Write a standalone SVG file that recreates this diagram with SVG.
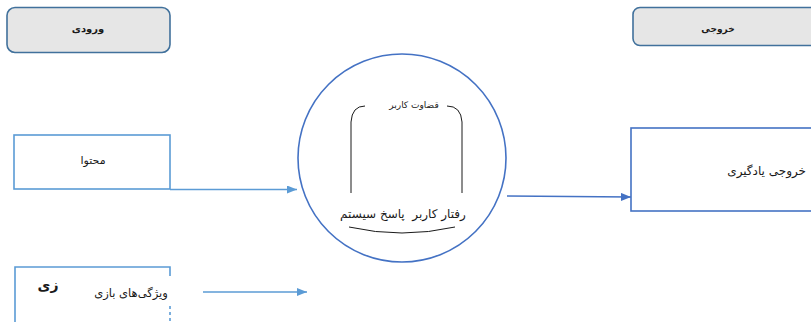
<svg xmlns="http://www.w3.org/2000/svg" width="811" height="322" viewBox="0 0 811 322">
  <defs>
    <style>
      .t { font-family: "DejaVu Sans", "Noto Sans", sans-serif; fill: #1a1a1a; text-anchor: middle; }
      .hdr { fill: #e6e6e6; stroke: #41719c; stroke-width: 1.6; }
      .box-lt { fill: #ffffff; stroke: #5b9bd5; stroke-width: 1.6; }
      .box-dk { fill: #ffffff; stroke: #4472c4; stroke-width: 1.6; }
      .brace { fill: none; stroke: #1a1a1a; stroke-width: 1; }
      .flow-lt { fill: none; stroke: #5b9bd5; stroke-width: 1.5; }
      .flow-dk { fill: none; stroke: #4472c4; stroke-width: 1.5; }
    </style>
    <marker id="ah-lt" viewBox="0 0 10 8" refX="10" refY="4" markerWidth="10" markerHeight="8" markerUnits="userSpaceOnUse" orient="auto">
      <path d="M0,0 L10,4 L0,8 Z" fill="#5b9bd5"/>
    </marker>
    <marker id="ah-dk" viewBox="0 0 10 8" refX="10" refY="4" markerWidth="10" markerHeight="8" markerUnits="userSpaceOnUse" orient="auto">
      <path d="M0,0 L10,4 L0,8 Z" fill="#4472c4"/>
    </marker>
  </defs>

  <rect width="811" height="322" fill="#ffffff"/>

  <!-- input header -->
  <g id="input-header">
    <rect class="hdr" x="7" y="7.5" width="163" height="45" rx="8"/>
    <text class="t" x="88" y="32" font-size="10" font-weight="bold">ورودی</text>
  </g>

  <!-- output header -->
  <g id="output-header">
    <rect class="hdr" x="633" y="7.5" width="190" height="38" rx="7"/>
    <text class="t" x="718" y="32" font-size="9" font-weight="bold">خروجی</text>
  </g>

  <!-- content input -->
  <g id="content">
    <rect class="box-lt" x="14" y="135" width="156" height="54"/>
    <text class="t" x="93" y="164" font-size="11">محتوا</text>
  </g>

  <!-- game features input (box runs past the lower edge) -->
  <g id="game-features">
    <path class="box-lt" d="M15,322 L15,267 L170,267 L170,276" fill="none"/>
    <path d="M170,306 L170,322" fill="none" stroke="#5b9bd5" stroke-width="1.6" stroke-dasharray="3 3"/>
    <text class="t" x="48" y="290" font-size="14" font-weight="bold">زی</text>
    <text class="t" x="131" y="297" font-size="11.5">ویژگی&#x200C;های بازی</text>
  </g>

  <!-- central process -->
  <g id="process">
    <circle cx="402" cy="158" r="104" fill="none" stroke="#4472c4" stroke-width="1.6"/>
    <path class="brace" d="M365,106 Q352,106 351,122 L351,193"/>
    <path class="brace" d="M447,106 Q461,106 462,122 L462,193"/>
    <text class="t" x="414" y="108" font-size="9">قضاوت کاربر</text>
    <text class="t" x="403" y="218" font-size="12" style="white-space:pre">رفتار کاربر  پاسخ سیستم</text>
    <path class="brace" d="M349,227 Q402,239 455,227"/>
  </g>

  <!-- learning output -->
  <g id="learning-output">
    <rect class="box-dk" x="631" y="128" width="200" height="83"/>
    <text class="t" x="806" y="175" font-size="12" style="text-anchor:end">خروجی یادگیری</text>
  </g>

  <!-- connectors -->
  <g id="connectors">
    <path class="flow-lt" d="M170,189.5 L297,189.5" marker-end="url(#ah-lt)"/>
    <path class="flow-lt" d="M203,292 L307,292" marker-end="url(#ah-lt)"/>
    <path class="flow-dk" d="M507,196 L631,197" marker-end="url(#ah-dk)"/>
  </g>
</svg>
